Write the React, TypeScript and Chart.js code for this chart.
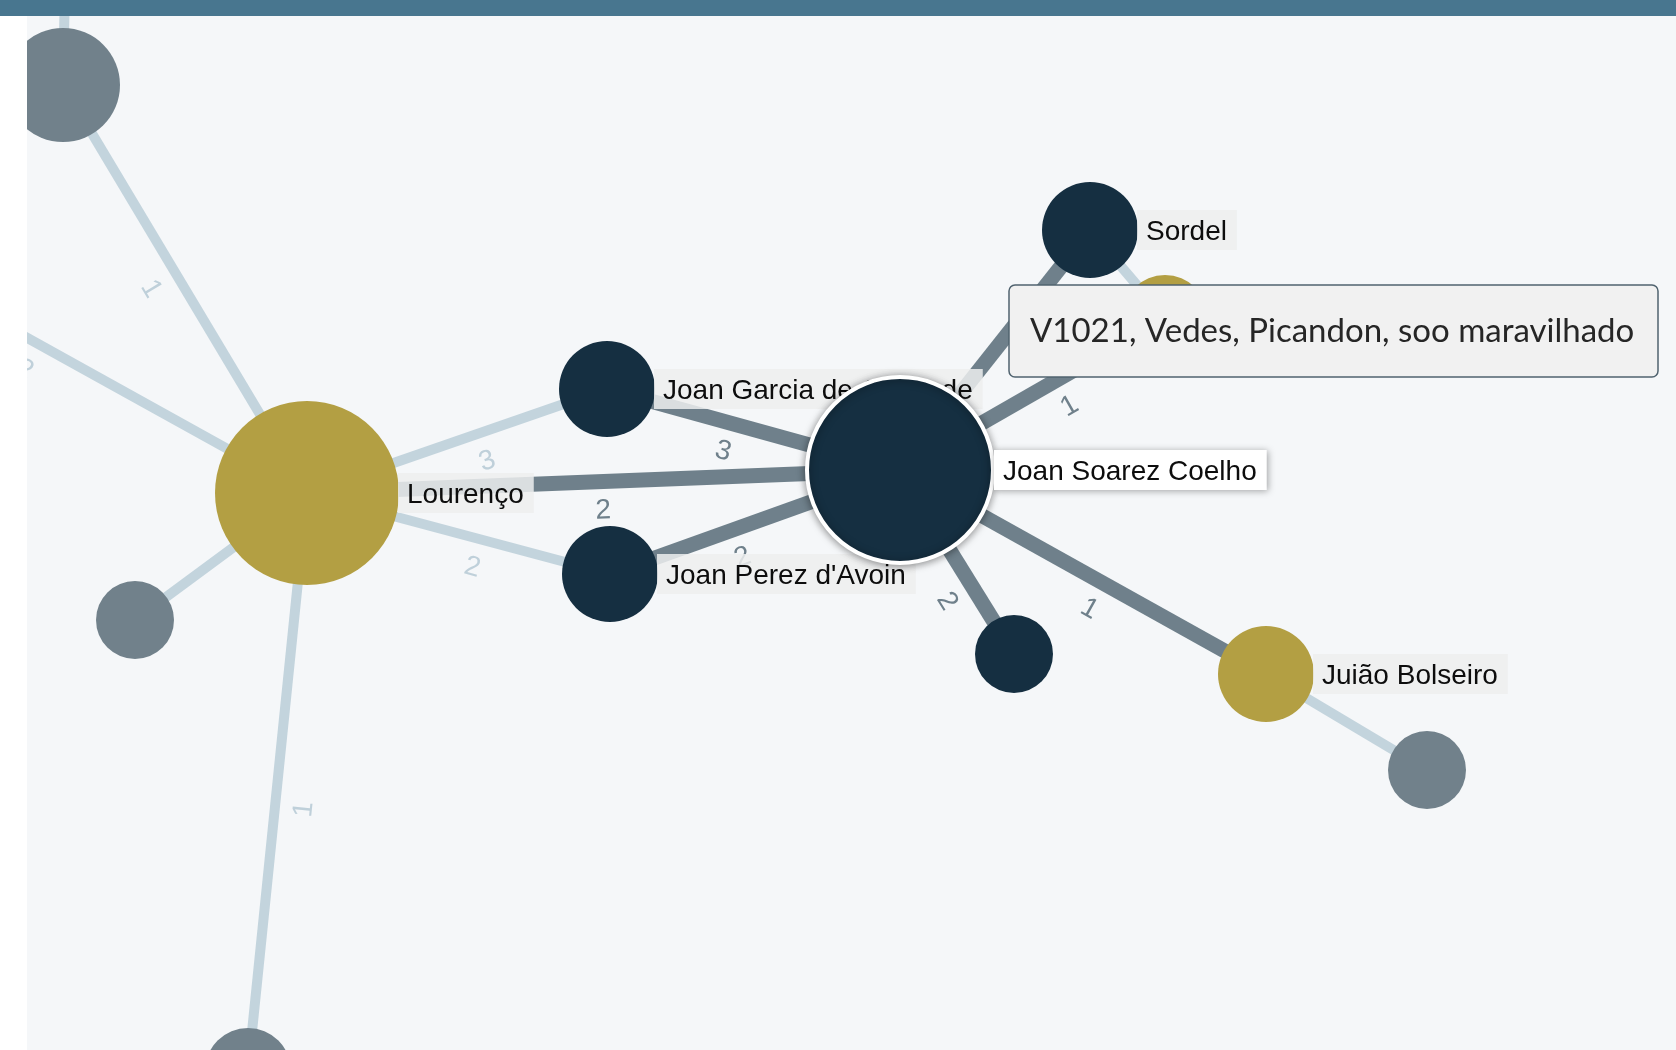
import React, { useEffect, useRef } from "react";
import { Chart, registerables } from "chart.js";

Chart.register(...registerables);

// ---------------- data ----------------
// nodes (layout coordinates, same units as the chart scales)
const nodeNames = [
  "", "", "", "Lourenço", "", "", "Joan Garcia de Guilhade", "Joan Perez d'Avoin",
  "Joan Soarez Coelho", "Sordel", "", "", "Juião Bolseiro", "",
];
const nodeX = [68, -189, 63, 307, 135, 248, 607, 610, 900, 1090, 1165, 1014, 1266, 1427];
const nodeY = [-160, 218, 85, 493, 620, 1071, 389, 574, 470, 230, 318, 654, 674, 770];
const nodeSize = [45, 45, 57, 92, 39, 43, 48, 48, 93, 48, 43, 39, 48, 39];
const nodeGroup = [
  "other", "other", "other", "jogral", "other", "other", "trovador", "trovador",
  "trovador", "trovador", "jogral", "trovador", "jogral", "other",
];
const focusNode = 8;

// edges
const edgeSource = [2, 1, 2, 3, 5, 3, 3, 3, 6, 7, 8, 8, 9, 8, 8, 12];
const edgeTarget = [0, 3, 3, 4, 3, 6, 7, 8, 8, 8, 9, 10, 10, 11, 12, 13];
const edgeLabel = ["1", "2", "1", "", "1", "3", "2", "2", "3", "2", "1", "1", "1", "2", "1", ""];

const tooltipText = "V1021, Vedes, Picandon, soo maravilhado";

// ---------------- styles ----------------
const COLORS: Record<string, string> = {
  trovador: "#152f41",
  jogral: "#b39f43",
  other: "#71818b",
};
const LIGHT_EDGE = "#c3d4dd";
const DARK_EDGE = "#6f808b";
const LIGHT_LABEL = "#bfd0da";
const DARK_LABEL = "#6f808b";
const BG = "#f5f7f9";
const LABEL_FONT = "28px 'Liberation Sans', Arial, sans-serif";

const AREA_LEFT = 27;
const AREA_TOP = 16;
const W = 1676;
const H = 1050;

function outerRadius(i: number) {
  return nodeSize[i] + (i === focusNode ? 2 : 0);
}

function isStrong(e: number) {
  return edgeSource[e] === focusNode || edgeTarget[e] === focusNode;
}

function drawEdgeLabels(chart: any) {
  const ctx: CanvasRenderingContext2D = chart.ctx;
  const sx = chart.scales.x;
  const sy = chart.scales.y;
  ctx.save();
  ctx.font = LABEL_FONT;
  ctx.textAlign = "center";
  ctx.textBaseline = "alphabetic";
  edgeSource.forEach((s, e) => {
    const label = edgeLabel[e];
    if (!label) return;
    const t = edgeTarget[e];
    const x1 = sx.getPixelForValue(nodeX[s]);
    const y1 = sy.getPixelForValue(nodeY[s]);
    const x2 = sx.getPixelForValue(nodeX[t]);
    const y2 = sy.getPixelForValue(nodeY[t]);
    const dx = x2 - x1;
    const dy = y2 - y1;
    const len = Math.hypot(dx, dy);
    const ux = dx / len;
    const uy = dy / len;
    const d = (outerRadius(s) + len - outerRadius(t)) / 2;
    const mx = x1 + ux * d;
    const my = y1 + uy * d;
    ctx.save();
    ctx.translate(mx, my);
    ctx.rotate(Math.atan2(dy, dx));
    ctx.fillStyle = isStrong(e) ? DARK_LABEL : LIGHT_LABEL;
    ctx.fillText(label, 0, 27 + 10);
    ctx.restore();
  });
  ctx.restore();
}

function drawNodeLabel(chart: any, i: number, focus: boolean) {
  const name = nodeNames[i];
  if (!name) return;
  const ctx: CanvasRenderingContext2D = chart.ctx;
  const cx = chart.scales.x.getPixelForValue(nodeX[i]);
  const cy = chart.scales.y.getPixelForValue(nodeY[i]);
  ctx.save();
  ctx.font = LABEL_FONT;
  const tw = ctx.measureText(name).width;
  const left = cx + outerRadius(i) - 1;
  const textX = left + 9;
  const right = textX + tw + 10;
  const top = cy - 20;
  const h = 40;
  if (focus) {
    ctx.shadowColor = "rgba(0,0,0,0.35)";
    ctx.shadowBlur = 7;
    ctx.shadowOffsetX = 1;
    ctx.shadowOffsetY = 1;
    ctx.fillStyle = "#ffffff";
  } else {
    ctx.fillStyle = "rgba(237,238,238,0.85)";
  }
  ctx.fillRect(left, top, right - left, h);
  ctx.shadowColor = "transparent";
  ctx.shadowBlur = 0;
  ctx.fillStyle = "#0d0d0d";
  ctx.textAlign = "left";
  ctx.textBaseline = "alphabetic";
  ctx.fillText(name, textX, cy + 10);
  ctx.restore();
}

function drawTooltip(chart: any) {
  const ctx: CanvasRenderingContext2D = chart.ctx;
  const x = chart.scales.x.getPixelForValue(1009);
  const y = chart.scales.y.getPixelForValue(285);
  const w = 649;
  const h = 92;
  const r = 6;
  ctx.save();
  ctx.beginPath();
  ctx.moveTo(x + r, y);
  ctx.lineTo(x + w - r, y);
  ctx.arcTo(x + w, y, x + w, y + r, r);
  ctx.lineTo(x + w, y + h - r);
  ctx.arcTo(x + w, y + h, x + w - r, y + h, r);
  ctx.lineTo(x + r, y + h);
  ctx.arcTo(x, y + h, x, y + h - r, r);
  ctx.lineTo(x, y + r);
  ctx.arcTo(x, y, x + r, y, r);
  ctx.closePath();
  ctx.fillStyle = "#f1f1f1";
  ctx.fill();
  ctx.lineWidth = 1.5;
  ctx.strokeStyle = "#50636f";
  ctx.stroke();
  ctx.font = "33px Lato, 'Noto Sans', sans-serif";
  ctx.fillStyle = "#262626";
  ctx.textAlign = "left";
  ctx.textBaseline = "alphabetic";
  ctx.fillText(tooltipText, x + 21, y + 57);
  ctx.restore();
}

const networkPlugin = {
  id: "network",
  beforeDatasetDraw(chart: any, args: any) {
    const ds = chart.data.datasets[args.index];
    if (ds.role === "nodes") drawEdgeLabels(chart);
    if (ds.role === "focus") {
      const ctx = chart.ctx;
      ctx.save();
      ctx.shadowColor = "rgba(0,0,0,0.4)";
      ctx.shadowBlur = 9;
      ctx.shadowOffsetX = 0;
      ctx.shadowOffsetY = 1;
    }
  },
  afterDatasetDraw(chart: any, args: any) {
    const ds = chart.data.datasets[args.index];
    if (ds.role === "nodes") {
      nodeNames.forEach((_, i) => {
        if (i !== focusNode) drawNodeLabel(chart, i, false);
      });
    }
    if (ds.role === "focus") {
      chart.ctx.restore();
      drawNodeLabel(chart, focusNode, true);
    }
  },
  afterDraw(chart: any) {
    drawTooltip(chart);
  },
};

export default function App() {
  const canvasRef = useRef<HTMLCanvasElement>(null);

  useEffect(() => {
    const canvas = canvasRef.current;
    if (!canvas) return;

    const edgeDatasets = edgeSource.map((s, e) => {
      const t = edgeTarget[e];
      const strong = isStrong(e);
      return {
        type: "line",
        role: "edge",
        data: [
          { x: nodeX[s], y: nodeY[s] },
          { x: nodeX[t], y: nodeY[t] },
        ],
        borderColor: strong ? DARK_EDGE : LIGHT_EDGE,
        borderWidth: strong ? 15 : 10,
        borderCapStyle: "butt",
        pointRadius: 0,
        pointHoverRadius: 0,
        fill: false,
        tension: 0,
        order: 10,
      };
    });

    const others = nodeNames.map((_, i) => i).filter((i) => i !== focusNode);

    const nodeDataset = {
      type: "bubble",
      role: "nodes",
      data: others.map((i) => ({ x: nodeX[i], y: nodeY[i], r: nodeSize[i] })),
      backgroundColor: others.map((i) => COLORS[nodeGroup[i]]),
      borderWidth: 0,
      hoverRadius: 0,
      order: 5,
    };

    const focusDataset = {
      type: "bubble",
      role: "focus",
      data: [{ x: nodeX[focusNode], y: nodeY[focusNode], r: nodeSize[focusNode] }],
      backgroundColor: COLORS[nodeGroup[focusNode]],
      borderColor: "#ffffff",
      borderWidth: 4,
      hoverRadius: 0,
      order: 1,
    };

    const chart = new Chart(canvas, {
      type: "bubble",
      data: { datasets: [...edgeDatasets, nodeDataset, focusDataset] as any },
      options: {
        animation: false,
        responsive: false,
        devicePixelRatio: 1,
        events: [],
        layout: { autoPadding: false, padding: 0 },
        plugins: { legend: { display: false }, tooltip: { enabled: false } },
        scales: {
          x: { type: "linear", min: AREA_LEFT, max: W, display: false },
          y: { type: "linear", min: AREA_TOP, max: H, reverse: true, display: false },
        },
      } as any,
      plugins: [networkPlugin],
    });

    return () => chart.destroy();
  }, []);

  return (
    <div
      style={{
        position: "fixed",
        left: 0,
        top: 0,
        width: W,
        height: H,
        background: "#ffffff",
        overflow: "hidden",
      }}
    >
      <div
        style={{
          position: "absolute",
          left: 0,
          top: 0,
          width: W,
          height: AREA_TOP,
          background: "#48768f",
        }}
      />
      <div
        style={{
          position: "absolute",
          left: AREA_LEFT,
          top: AREA_TOP,
          width: W - AREA_LEFT,
          height: H - AREA_TOP,
          background: BG,
        }}
      >
        <canvas
          ref={canvasRef}
          width={W - AREA_LEFT}
          height={H - AREA_TOP}
          style={{ display: "block", width: W - AREA_LEFT, height: H - AREA_TOP }}
        />
      </div>
    </div>
  );
}
